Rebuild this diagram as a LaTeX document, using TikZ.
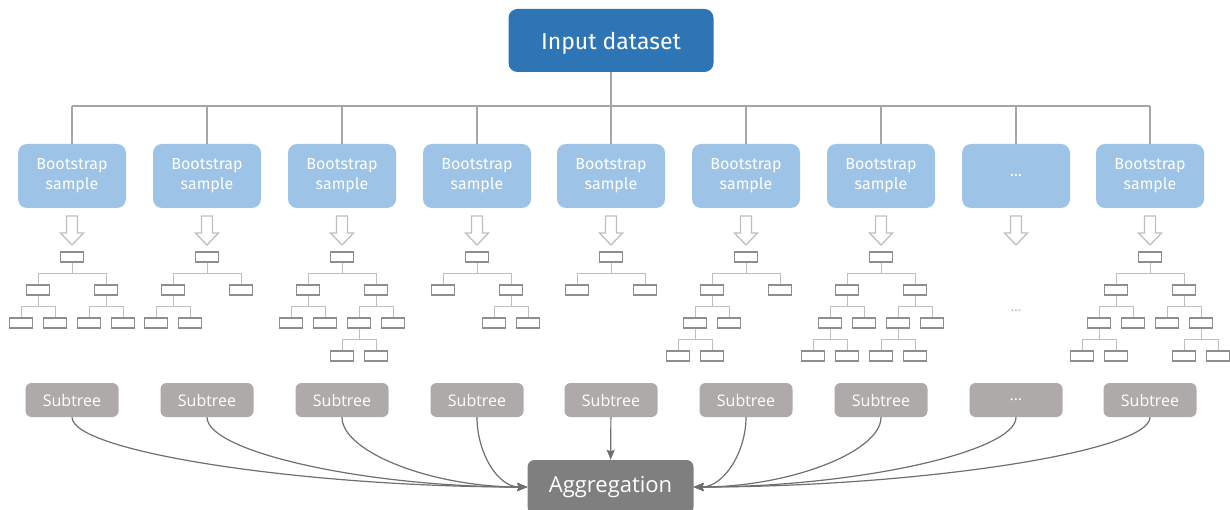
\documentclass[tikz,border=0pt]{standalone}
\usepackage{fontspec}
\usepackage{tikz}
\usetikzlibrary{arrows.meta, calc}
\newfontfamily\dinfont{Fira Sans}
\newfontfamily\segfont{Open Sans}
\definecolor{inblue}{HTML}{2E75B6}
\definecolor{bootblue}{HTML}{9DC3E6}
\definecolor{subgray}{HTML}{AEAAAA}
\definecolor{agggray}{HTML}{7F7F7F}
\definecolor{trunkgray}{HTML}{A6A6A6}
\definecolor{leafgray}{HTML}{8E8E8E}
\definecolor{twiggray}{HTML}{BFBFBF}
\definecolor{curvegray}{HTML}{6F6F6F}
\newcommand\bsample{Bootstrap\\sample}
\newcommand\branch[3]{%
  \node[leaf] (#2) at ($(#1)+(#3,33)$) {};
  \draw[twig] (#1.south) -- ++(0,11) -| (#2.north);}

\begin{document}
\begin{tikzpicture}[x=1pt, y=-1pt,
  inbox/.style={fill=inblue, text=white, rounded corners=9pt, minimum width=205pt, minimum height=63pt, inner sep=0pt, text depth=0pt, font=\dinfont\fontsize{23}{27}\selectfont},
  bootbox/.style={fill=bootblue, text=white, rounded corners=9pt, minimum width=108pt, minimum height=64pt, inner sep=0pt, align=center, font=\dinfont\fontsize{16}{20}\selectfont},
  subbox/.style={fill=subgray, text=white, rounded corners=6pt, minimum width=93pt, minimum height=34pt, inner sep=0pt, font=\segfont\fontsize{16}{19}\selectfont},
  aggbox/.style={fill=agggray, text=white, rounded corners=7pt, minimum width=166pt, minimum height=54pt, inner sep=0pt, font=\segfont\fontsize{22}{26}\selectfont},
  leaf/.style={draw=leafgray, line width=1.2pt, minimum width=23pt, minimum height=10pt, inner sep=0pt},
  twig/.style={draw=twiggray, line width=1pt},
  trunk/.style={draw=trunkgray, line width=2pt},
  hollow/.style={draw=twiggray, line width=1.3pt, line join=miter},
  feed/.style={draw=curvegray, line width=1.2pt, -{Stealth[length=10pt, width=8pt, inset=1.5pt]}}]
\useasboundingbox (0,0) rectangle (1230,510);

\node[inbox] (in) at (611,40.5) {Input dataset};
\coordinate (bus) at (611,106);
\draw[trunk] (in.south) -- (bus);

\foreach \x/\lab [count=\i] in {72/\bsample,207/\bsample,342/\bsample,477/\bsample,611/\bsample,746/\bsample,881/\bsample,1016/\ldots,1150/\bsample}{
  \node[bootbox] (b\i) at (\x,176) {\lab};
  \draw[trunk] (b\i.north) -- (b\i.north |- bus);
  \draw[hollow] (\x-5.5,216) -- (\x+5.5,216) -- (\x+5.5,233) -- (\x+11.5,233) -- (\x,245) -- (\x-11.5,233) -- (\x-5.5,233) -- cycle;
}
\draw[trunk] (b1.north |- bus) -- (b9.north |- bus);

% trees
\node[leaf] (r1) at (72,257) {};
\branch{r1}{r1a}{-34} \branch{r1}{r1b}{34}
\branch{r1a}{r1aa}{-17} \branch{r1a}{r1ab}{17}
\branch{r1b}{r1ba}{-17} \branch{r1b}{r1bb}{17}

\node[leaf] (r2) at (207,257) {};
\branch{r2}{r2a}{-34} \branch{r2}{r2b}{34}
\branch{r2a}{r2aa}{-17} \branch{r2a}{r2ab}{17}

\node[leaf] (r3) at (342,257) {};
\branch{r3}{r3a}{-34} \branch{r3}{r3b}{34}
\branch{r3a}{r3aa}{-17} \branch{r3a}{r3ab}{17}
\branch{r3b}{r3ba}{-17} \branch{r3b}{r3bb}{17}
\branch{r3ba}{r3baa}{-17} \branch{r3ba}{r3bab}{17}

\node[leaf] (r4) at (477,257) {};
\branch{r4}{r4a}{-34} \branch{r4}{r4b}{34}
\branch{r4b}{r4ba}{-17} \branch{r4b}{r4bb}{17}

\node[leaf] (r5) at (611,257) {};
\branch{r5}{r5a}{-34} \branch{r5}{r5b}{34}

\node[leaf] (r6) at (746,257) {};
\branch{r6}{r6a}{-34} \branch{r6}{r6b}{34}
\branch{r6a}{r6aa}{-17} \branch{r6a}{r6ab}{17}
\branch{r6aa}{r6aaa}{-17} \branch{r6aa}{r6aab}{17}

\node[leaf] (r7) at (881,257) {};
\branch{r7}{r7a}{-34} \branch{r7}{r7b}{34}
\branch{r7a}{r7aa}{-17} \branch{r7a}{r7ab}{17}
\branch{r7b}{r7ba}{-17} \branch{r7b}{r7bb}{17}
\branch{r7aa}{r7aaa}{-17} \branch{r7aa}{r7aab}{17}
\branch{r7ba}{r7baa}{-17} \branch{r7ba}{r7bab}{17}

\node[text=twiggray, font=\dinfont\fontsize{14}{16}\selectfont] (gap) at (1016,311) {\ldots};

\node[leaf] (r9) at (1150,257) {};
\branch{r9}{r9a}{-34} \branch{r9}{r9b}{34}
\branch{r9a}{r9aa}{-17} \branch{r9a}{r9ab}{17}
\branch{r9b}{r9ba}{-17} \branch{r9b}{r9bb}{17}
\branch{r9aa}{r9aaa}{-17} \branch{r9aa}{r9aab}{17}
\branch{r9bb}{r9bba}{-17} \branch{r9bb}{r9bbb}{17}

% aggregation
\foreach \x/\lab [count=\i] in {72/Subtree,207/Subtree,342/Subtree,477/Subtree,611/Subtree,746/Subtree,881/Subtree,1016/\ldots,1150/Subtree}
  \node[subbox] (s\i) at (\x,400) {\lab};
\node[aggbox] (agg) at (610.5,487) {Aggregation};

\foreach \i/\h in {1/220,2/160,3/95,4/30}
  \draw[feed] (s\i.south) .. controls +(0,35) and +(-\h,0) .. (agg.west);
\foreach \i/\h in {6/30,7/95,8/160,9/220}
  \draw[feed] (s\i.south) .. controls +(0,35) and +(\h,0) .. (agg.east);
\draw[feed] (s5) -- (agg);
\end{tikzpicture}
\end{document}
